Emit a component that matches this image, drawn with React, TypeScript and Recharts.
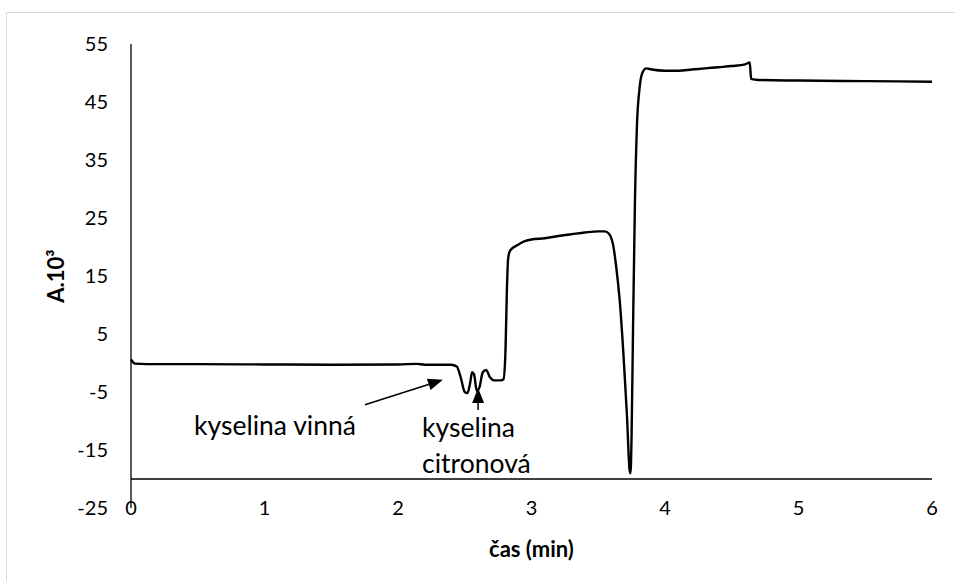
import React from 'react';
import { LineChart, Line, XAxis, YAxis, ReferenceLine, Label } from 'recharts';

// time (min) and absorbance (A·10^3) of the detector trace
const times = [
  0, 0.03, 0.2, 0.5, 1.0, 1.5, 2.0, 2.14, 2.2, 2.4,
  2.44, 2.47, 2.5, 2.52, 2.54, 2.555, 2.57, 2.59, 2.61, 2.635,
  2.66, 2.69, 2.72, 2.77, 2.79, 2.805, 2.815, 2.825, 2.84, 2.9,
  2.95, 3.0, 3.1, 3.2, 3.3, 3.4, 3.5, 3.55, 3.58, 3.61,
  3.635, 3.66, 3.69, 3.715, 3.735, 3.742, 3.75, 3.76, 3.775, 3.79,
  3.81, 3.83, 3.86, 3.9, 4.0, 4.1, 4.2, 4.3, 4.4, 4.5,
  4.6, 4.635, 4.645, 4.7, 5.0, 5.5, 6.0,
];
const absorbance = [
  0.6, -0.1, -0.2, -0.2, -0.25, -0.3, -0.25, -0.15, -0.3, -0.3,
  -0.6, -2.5, -5.0, -5.2, -3.5, -1.6, -2.0, -4.8, -4.2, -1.6,
  -1.2, -2.5, -3.0, -3.0, -2.8, 2, 12, 18, 19.4, 20.4,
  21.0, 21.3, 21.5, 21.9, 22.2, 22.5, 22.7, 22.7, 22.3, 20.5,
  16.5, 11, 1, -9, -18.5, -19, -12, 5, 28, 41,
  47.5, 50.0, 50.8, 50.6, 50.4, 50.4, 50.6, 50.8, 51.0, 51.2,
  51.5, 51.8, 49.0, 48.8, 48.7, 48.6, 48.5,
];

const xTicks = [0, 1, 2, 3, 4, 5, 6];
const yTicks = [-25, -15, -5, 5, 15, 25, 35, 45, 55];

// annotation arrows: [tail, tip] in data units
const tartaricArrow = [{ x: 1.753, y: -7.2 }, { x: 2.337, y: -2.9 }];
const citricArrow = [{ x: 2.6, y: -8.1 }, { x: 2.6, y: -4.3 }];

const data = times.map((t, i) => ({ t, a: absorbance[i] }));

const FONT = 'Lato, "Open Sans", sans-serif';

function arrowHead(x1: number, y1: number, x2: number, y2: number) {
  const len = 15;
  const half = 6;
  const ang = Math.atan2(y2 - y1, x2 - x1);
  const bx = x2 - len * Math.cos(ang);
  const by = y2 - len * Math.sin(ang);
  const px = -Math.sin(ang) * half;
  const py = Math.cos(ang) * half;
  return `${x2},${y2} ${bx + px},${by + py} ${bx - px},${by - py}`;
}

function makeArrow(lines: string[], dx: number, dy: number, anchor: 'start' | 'middle') {
  return (props: any) => {
    const { x1, y1, x2, y2 } = props;
    const ang = Math.atan2(y2 - y1, x2 - x1);
    const ex = x2 - 12 * Math.cos(ang);
    const ey = y2 - 12 * Math.sin(ang);
    return (
      <g>
        <line x1={x1} y1={y1} x2={ex} y2={ey} stroke="#000" strokeWidth={1.5} />
        <polygon points={arrowHead(x1, y1, x2, y2)} fill="#000" />
        {lines.map((s, i) => (
          <text
            key={s}
            x={x1 + dx}
            y={y1 + dy + i * 36}
            textAnchor={anchor}
            dominantBaseline="central"
            fontFamily={FONT}
            fontSize={26.5}
            fill="#000"
          >
            {s}
          </text>
        ))}
      </g>
    );
  };
}

const XTick = (props: any) => {
  const { x, y, payload } = props;
  return (
    <text x={x} y={y} dy="0.35em" textAnchor="middle" fontFamily={FONT} fontSize={20} fill="#000">
      {payload.value}
    </text>
  );
};

const YTitle = (props: any) => {
  const cy = props.viewBox.y + props.viewBox.height / 2;
  const cx = 55;
  return (
    <text
      x={cx}
      y={cy}
      transform={`rotate(-90 ${cx} ${cy})`}
      textAnchor="middle"
      dominantBaseline="central"
      fontFamily={FONT}
      fontSize={22}
      fontWeight={700}
      fill="#000"
    >
      A.10³
    </text>
  );
};

export default function App() {
  return (
    <div style={{ position: 'absolute', left: 0, top: 0, width: 955, height: 581, background: '#fff' }}>
      <div
        style={{
          position: 'absolute', left: 6, top: 12, width: 960, height: 580,
          borderLeft: '1px solid #d9d9d9', borderTop: '1px solid #d9d9d9',
        }}
      />
      <LineChart
        width={955}
        height={581}
        data={data}
        margin={{ top: 44, right: 23, bottom: 23, left: 71 }}
        style={{ position: 'absolute', left: 0, top: 0 }}
      >
        <XAxis
          dataKey="t"
          type="number"
          domain={[0, 6]}
          ticks={xTicks}
          axisLine={false}
          tickLine={false}
          tickSize={0}
          tickMargin={0}
          height={50}
          tick={<XTick />}
        >
          <Label
            value="čas (min)"
            position="insideBottom"
            offset={1}
            style={{ fontFamily: FONT, fontSize: 22, fontWeight: 700, fill: '#000' }}
          />
        </XAxis>
        <YAxis
          type="number"
          domain={[-25, 55]}
          ticks={yTicks}
          width={60}
          axisLine={{ stroke: '#000', strokeWidth: 1.3 }}
          tickLine={false}
          tickSize={6}
          tickMargin={17}
          tick={{ fontFamily: FONT, fontSize: 20, fill: '#000' }}
        >
          <Label content={<YTitle />} />
        </YAxis>
        <ReferenceLine y={-20} stroke="#000" strokeWidth={1.3} />
        <Line
          type="monotone"
          dataKey="a"
          stroke="#000"
          strokeWidth={2.4}
          dot={false}
          isAnimationActive={false}
        />
        <ReferenceLine
          segment={tartaricArrow}
          shape={makeArrow(['kyselina vinná'], -90, 20, 'middle')}
        />
        <ReferenceLine
          segment={citricArrow}
          shape={makeArrow(['kyselina', 'citronová'], -56, 17, 'start')}
        />
      </LineChart>
    </div>
  );
}
